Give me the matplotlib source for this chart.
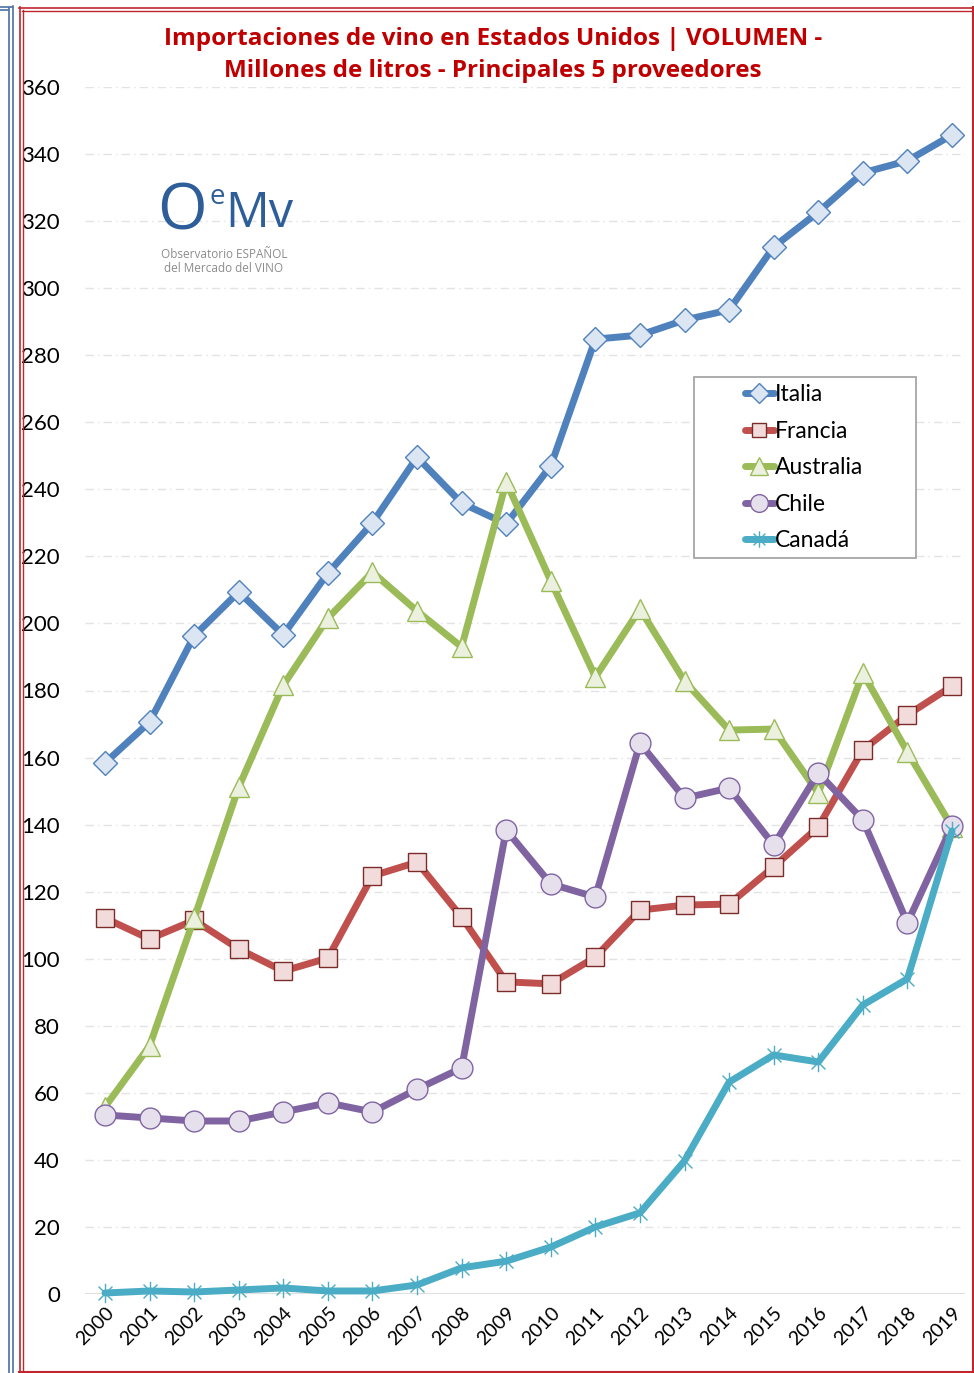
import matplotlib
matplotlib.use("Agg")
import matplotlib.pyplot as plt
from matplotlib.path import Path
from matplotlib.lines import Line2D
from matplotlib.patches import Rectangle

years = list(range(2000, 2020))
italia = [158.4, 170.6, 196.3, 209.4, 196.6, 215.0, 230.0, 249.6, 235.9, 229.7,
          247.0, 284.8, 286.0, 290.5, 293.5, 312.3, 322.7, 334.4, 338.0, 345.7]
francia = [112.1, 105.9, 111.5, 102.9, 96.3, 100.2, 124.7, 128.8, 112.4, 93.1,
           92.5, 100.5, 114.5, 116.0, 116.3, 127.4, 139.3, 162.3, 172.7, 181.3]
australia = [55.8, 74.0, 112.1, 151.2, 181.6, 201.6, 215.3, 203.7, 193.0, 242.2,
             212.7, 184.0, 204.3, 182.8, 168.2, 168.5, 149.4, 185.2, 161.7, 139.3]
chile = [53.4, 52.5, 51.6, 51.6, 54.3, 57.0, 54.3, 61.1, 67.4, 138.4,
         122.3, 118.4, 164.3, 147.9, 150.9, 133.9, 155.4, 141.4, 110.7, 139.6]
canada = [0.3, 0.9, 0.6, 1.2, 1.8, 0.9, 0.9, 2.7, 7.8, 9.8,
          14.0, 20.0, 24.2, 39.7, 63.2, 71.3, 69.2, 86.2, 94.0, 138.1]
series_names = ["Italia", "Francia", "Australia", "Chile", "Canadá"]
yticks = list(range(0, 361, 20))
title = "Importaciones de vino en Estados Unidos | VOLUMEN -\nMillones de litros - Principales 5 proveedores"

W, H = 974, 1373
fig = plt.figure(figsize=(W / 100, H / 100), dpi=100)
fig.patch.set_facecolor("white")

FONT = ["Lato", "DejaVu Sans"]
TFONT = ["Open Sans", "DejaVu Sans"]

# axes placement in pixels
x_left, x_right = 85, 965
y_top, y_bot = 87, 1294
ax = fig.add_axes([x_left / W, (H - y_bot) / H, (x_right - x_left) / W, (y_bot - y_top) / H])
ax.set_facecolor("none")
px_per_year = (952 - 105) / 19
ax.set_xlim(2000 - (105 - x_left) / px_per_year, 2019 + (x_right - 952) / px_per_year)
ax.set_ylim(0, 360)

for s in ax.spines.values():
    s.set_visible(False)
ax.set_yticks(yticks)
ax.set_yticklabels([str(v) for v in yticks], fontsize=16, family=FONT)
ax.tick_params(axis="y", length=0, pad=18)
ax.set_xticks(years)
ax.set_xticklabels([str(y) for y in years], rotation=45, ha="right", va="top",
                   rotation_mode="anchor", fontsize=14, family=FONT)
ax.tick_params(axis="x", length=0, pad=7)
for v in yticks[1:]:
    ax.axhline(v, color="#E3E3E3", lw=1.0, ls=(0, (6, 3, 1, 3)), zorder=0)
ax.axhline(0, color="#D9D9D9", lw=1.2, zorder=0)

star = Path([(-1, -1), (1, 1), (-1, 1), (1, -1), (0, -1.4), (0, 1.4)],
            [Path.MOVETO, Path.LINETO, Path.MOVETO, Path.LINETO, Path.MOVETO, Path.LINETO])

styles = [
    (italia, "#4F81BD", "D", 12, "#DCE6F2", "#4F81BD"),
    (francia, "#C0504D", "s", 12.5, "#F2DCDB", "#7B2C2A"),
    (australia, "#9BBB59", "^", 15, "#EBF1DE", "#9BBB59"),
    (chile, "#8064A2", "o", 15, "#E5E0EC", "#8064A2"),
    (canada, "#4BACC6", star, 14, "none", "#4BACC6"),
]
handles = []
for (vals, col, mk, ms, fc, ec), name in zip(styles, series_names):
    ln, = ax.plot(years, vals, color=col, lw=5.0, marker=mk, ms=ms,
                  mfc=fc, mec=ec, mew=1.0, solid_joinstyle="round",
                  solid_capstyle="round", clip_on=False, label=name)
    handles.append(ln)

# legend box (drawn separately to match reference size)
box = Rectangle((694 / W, 1 - 558 / H), (916 - 694) / W, (558 - 377) / H,
                transform=fig.transFigure, facecolor="white",
                edgecolor="#A6A6A6", lw=1.3, zorder=4, clip_on=False)
ax.add_artist(box)
leg = ax.legend(handles=handles, loc="upper left",
                bbox_to_anchor=((745 - x_left) / (x_right - x_left), (y_bot - 384) / (y_bot - y_top)),
                prop={"family": FONT, "size": 16.5}, frameon=False,
                handlelength=1.25, handletextpad=0.05,
                borderpad=0.0, labelspacing=0.68, borderaxespad=0,
                markerscale=0.85)
leg.set_zorder(6)

# title
fig.text(493 / W, 1 - 55 / H, title, ha="center", va="center", color="#C00000",
         fontsize=17.5, fontweight="bold", family=TFONT, linespacing=1.45)

# logo
fig.text(207 / W, 1 - 213 / H, "O", ha="right", va="center", color="#2E5E99", fontsize=46, family=TFONT)
fig.text(217 / W, 1 - 197 / H, "e", ha="center", va="center", color="#2E5E99", fontsize=20, family=TFONT)
fig.text(225 / W, 1 - 214 / H, "Mv", ha="left", va="center", color="#2E5E99", fontsize=35, family=TFONT)
fig.text(224 / W, 1 - 255 / H, "Observatorio ESPAÑOL", ha="center", va="center", color="#8C8C8C", fontsize=8.5, family=TFONT)
fig.text(224 / W, 1 - 269 / H, "del Mercado del VINO", ha="center", va="center", color="#8C8C8C", fontsize=8.5, family=TFONT)

# frames
def vline(x, y0, y1, c, lw):
    fig.add_artist(Line2D([x / W, x / W], [1 - y0 / H, 1 - y1 / H], color=c, lw=lw))

def hline(y, x0, x1, c, lw):
    fig.add_artist(Line2D([x0 / W, x1 / W], [1 - y / H, 1 - y / H], color=c, lw=lw))

red = "#C0262C"
vline(19.5, 7, 1373, red, 1.2)
vline(22.5, 10, 1370, red, 1.0)
hline(7.5, 19, 974, red, 1.2)
hline(10.5, 22, 974, red, 1.0)
vline(972.5, 7, 1373, red, 1.5)
hline(1371.5, 19, 974, red, 1.5)
blue = "#4A6FA5"
vline(8.5, 8, 1373, blue, 1.2)
vline(12.5, 6, 1373, blue, 1.2)
hline(6.5, 0, 12, blue, 1.2)
hline(9.5, 0, 8, blue, 1.2)

fig.savefig("out.png", dpi=100, facecolor="white")
